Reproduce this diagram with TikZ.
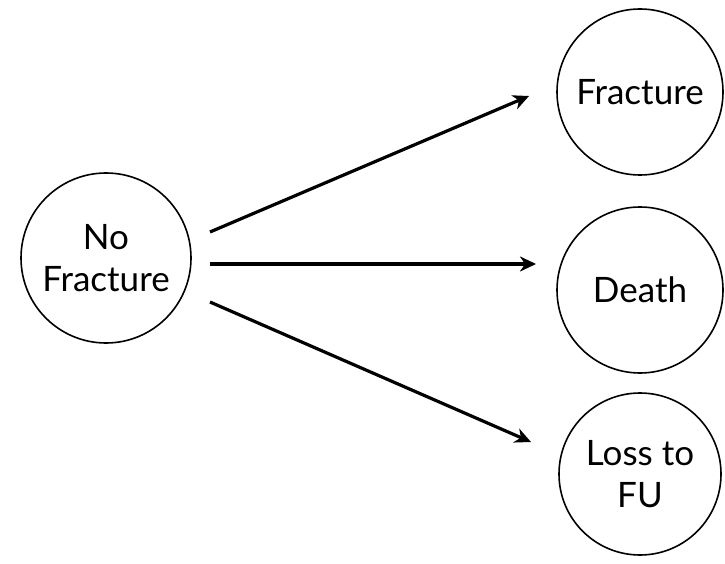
\documentclass[tikz,border=0pt]{standalone}
\usepackage{fontspec}
\setmainfont{Lato}
\usetikzlibrary{arrows.meta}
\begin{document}
\begin{tikzpicture}[x=1pt,y=-1pt,
  state/.style={circle,draw=black,line width=1.6pt,minimum size=166pt,inner sep=0pt,align=center,font=\fontsize{35}{42}\selectfont},
  flow/.style={line width=3.2pt,-{Stealth[length=16pt,width=15pt,inset=5pt]}}]
\useasboundingbox (0,0) rectangle (725,564);
\node[state,minimum size=170pt] (nf) at (106,258) {No\\Fracture};
\node[state] (fr) at (640,92) {Fracture};
\node[state] (de) at (640,290) {Death};
\node[state,minimum size=162pt] (lf) at (640,474) {Loss to\\FU};
\coordinate (s1) at (210,232);
\coordinate (s2) at (210,264);
\coordinate (s3) at (210,302);
\coordinate (e1) at (529,96);
\coordinate (e2) at (536,264);
\coordinate (e3) at (531,442);
\draw[flow] (s1) -- (e1);
\draw[flow] (s2) -- (e2);
\draw[flow] (s3) -- (e3);
\end{tikzpicture}
\end{document}
